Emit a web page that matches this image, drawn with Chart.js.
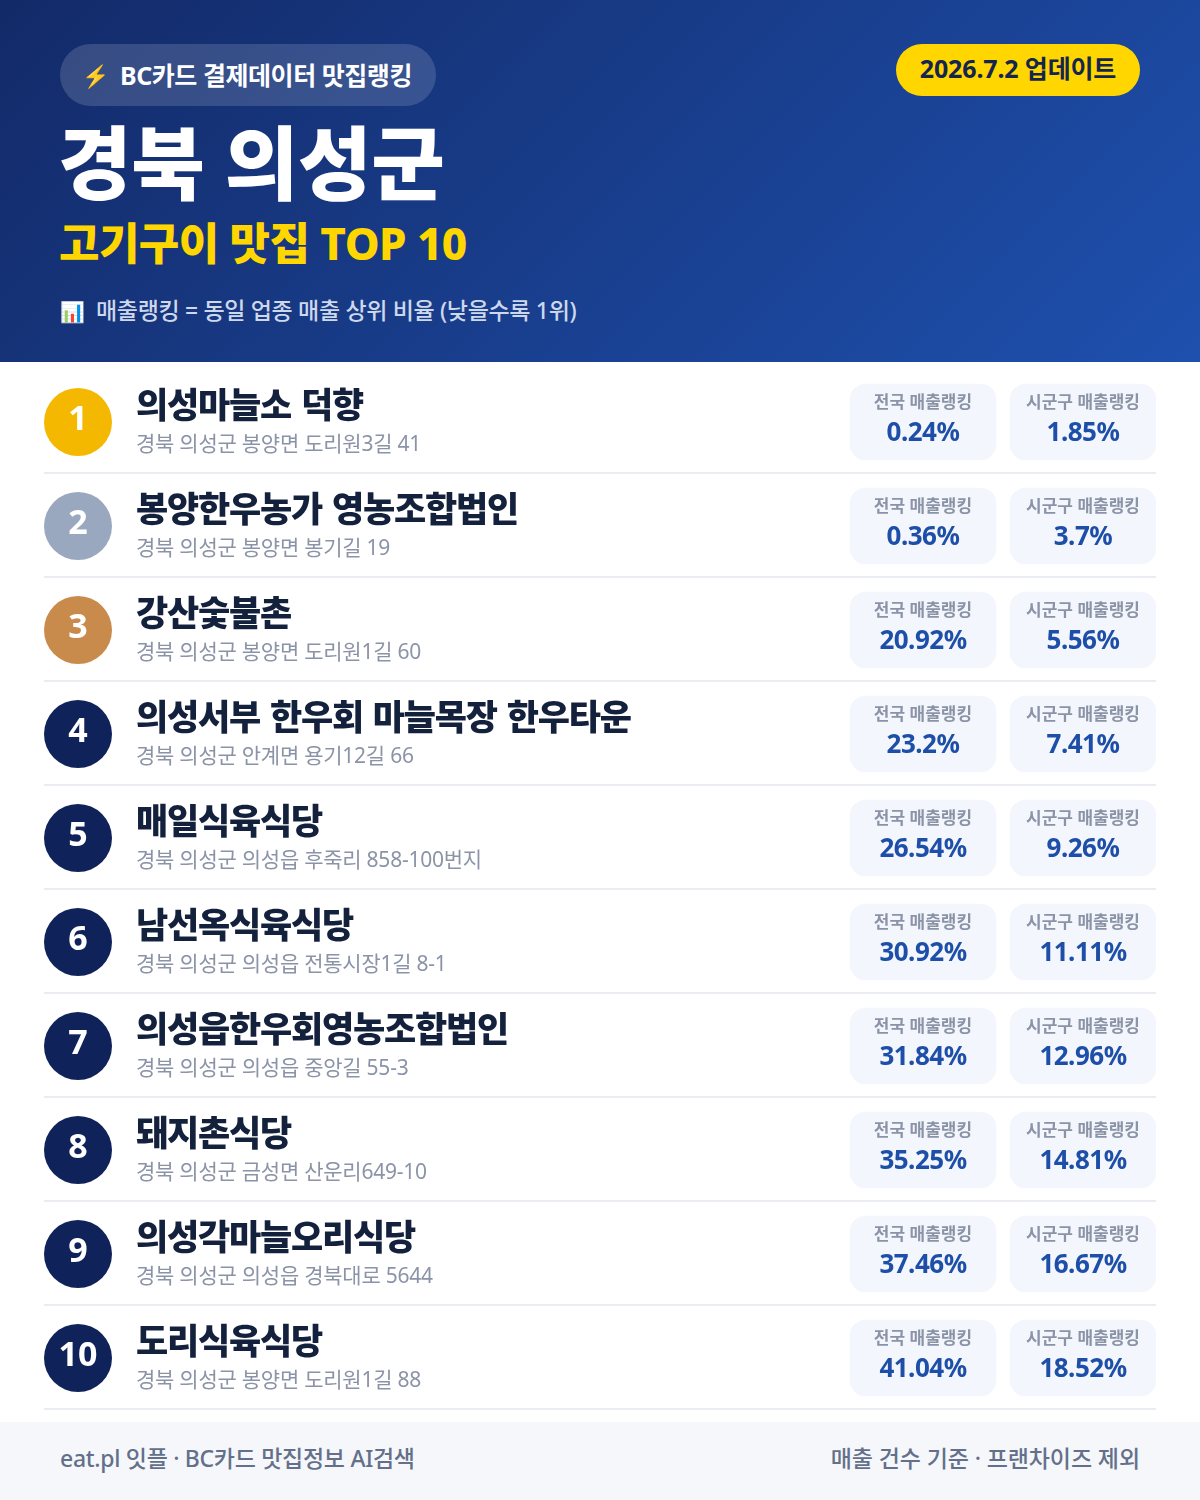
<!DOCTYPE html>
<html lang="ko">
<head>
<meta charset="utf-8">
<title>경북 의성군 고기구이 맛집 TOP 10</title>
<script src="https://cdn.jsdelivr.net/npm/chart.js@4"></script>
<style>
	* { margin: 0; padding: 0; box-sizing: border-box; }
	html, body { width: 1200px; height: 1500px; background: #fff; overflow: hidden; }
	body { position: relative; font-family: "Noto Sans", "Noto Sans CJK KR", sans-serif; }
	.header {
		position: absolute; left: 0; top: 0; width: 1200px; height: 362px;
		background: linear-gradient(135deg, #132a68 0%, #1e50ae 100%);
	}
	.header div, .footer div { position: absolute; white-space: nowrap; }
	.badge {
		left: 60px; top: 44px; width: 376px; height: 62px; border-radius: 31px;
		background: rgba(255, 255, 255, 0.15); color: #fff;
		font-size: 25px; font-weight: 700; line-height: 63px; padding-left: 24px; letter-spacing: -0.45px;
	}
	.badge span { display: inline-block; width: 36px; font-size: 22px; position: relative; left: -2px; top: -1px; }
	.date {
		left: 896px; top: 44px; width: 244px; height: 52px; border-radius: 26px;
		background: #ffd600; color: #14254f;
		font-size: 25px; font-weight: 700; line-height: 48px; text-align: center; letter-spacing: -0.15px;
	}
	.title { left: 58px; top: 104px; color: #fff; font-size: 80px; font-weight: 900; line-height: 116px; letter-spacing: -0.4px; }
	.subtitle { left: 59px; top: 211px; color: #ffd600; font-size: 44px; font-weight: 800; line-height: 64px; letter-spacing: -0.55px; }
	.note { left: 60px; top: 292px; color: #cdd8ec; font-size: 23px; font-weight: 500; line-height: 36px; letter-spacing: -0.33px; }
	.note span { display: inline-block; width: 36px; font-size: 20px; }
	#board { position: absolute; left: 0; top: 362px; }
	.footer { position: absolute; left: 0; top: 1422px; width: 1200px; height: 78px; background: #f5f7fb; color: #64708a; font-size: 23px; font-weight: 500; line-height: 72px; letter-spacing: -0.3px; }
	.footer .left { left: 60px; }
	.footer .right { right: 60px; letter-spacing: -0.1px; }
</style>
</head>
<body>
<div class="header">
	<div class="badge"><span>⚡</span>BC카드 결제데이터 맛집랭킹</div>
	<div class="date">2026.7.2 업데이트</div>
	<div class="title">경북 의성군</div>
	<div class="subtitle">고기구이 맛집 TOP 10</div>
	<div class="note"><span>📊</span>매출랭킹 = 동일 업종 매출 상위 비율 (낮을수록 1위)</div>
</div>
<canvas id="board" width="1200" height="1060"></canvas>
<div class="footer">
	<div class="left">eat.pl 잇플 · BC카드 맛집정보 AI검색</div>
	<div class="right">매출 건수 기준 · 프랜차이즈 제외</div>
</div>
<script>
// table contents
const ranks = [1, 2, 3, 4, 5, 6, 7, 8, 9, 10]
const names = [
	'의성마늘소 덕향',
	'봉양한우농가 영농조합법인',
	'강산숯불촌',
	'의성서부 한우회 마늘목장 한우타운',
	'매일식육식당',
	'남선옥식육식당',
	'의성읍한우회영농조합법인',
	'돼지촌식당',
	'의성각마늘오리식당',
	'도리식육식당',
]
const addresses = [
	'경북 의성군 봉양면 도리원3길 41',
	'경북 의성군 봉양면 봉기길 19',
	'경북 의성군 봉양면 도리원1길 60',
	'경북 의성군 안계면 용기12길 66',
	'경북 의성군 의성읍 후죽리 858-100번지',
	'경북 의성군 의성읍 전통시장1길 8-1',
	'경북 의성군 의성읍 중앙길 55-3',
	'경북 의성군 금성면 산운리649-10',
	'경북 의성군 의성읍 경북대로 5644',
	'경북 의성군 봉양면 도리원1길 88',
]
const nationalRank = [0.24, 0.36, 20.92, 23.2, 26.54, 30.92, 31.84, 35.25, 37.46, 41.04]
const sigunguRank = [1.85, 3.7, 5.56, 7.41, 9.26, 11.11, 12.96, 14.81, 16.67, 18.52]
const cardLabels = ['전국 매출랭킹', '시군구 매출랭킹']

// columns on the x axis
const BADGE_X = 78
const TEXT_X = 136
const NATIONAL_COL = [850, 996]
const SIGUNGU_COL = [1010, 1156]
const FONT = '"Noto Sans", "Noto Sans CJK KR", sans-serif'

const badgeColors = ranks.map((r) => ['#f5b800', '#9aa8bf', '#c98b4b'][r - 1] || '#10225a')

// draws every label of a row, positions come from the scales
const rowText = {
	id: 'rowText',
	afterDatasetsDraw(chart) {
		const { ctx, scales } = chart
		const px = (v) => scales.x.getPixelForValue(v)
		ctx.save()
		ctx.textBaseline = 'alphabetic'
		ranks.forEach((rank, i) => {
			const y = scales.y.getPixelForValue(rank)

			ctx.textAlign = 'center'
			ctx.fillStyle = '#fff'
			ctx.font = '700 34px ' + FONT
			ctx.fillText(rank, px(BADGE_X), y + 8)

			ctx.textAlign = 'left'
			ctx.fillStyle = '#14213d'
			ctx.font = '800 35px ' + FONT
			ctx.letterSpacing = '-1.2px'
			ctx.wordSpacing = '2px'
			ctx.fillText(names[i], px(TEXT_X), y - 4)
			ctx.wordSpacing = '0px'
			ctx.fillStyle = '#8b94a7'
			ctx.font = '400 21px ' + FONT
			ctx.letterSpacing = '-0.25px'
			ctx.fillText(addresses[i], px(TEXT_X), y + 29)
			ctx.letterSpacing = '0px'

			ctx.textAlign = 'center'
			;[NATIONAL_COL, SIGUNGU_COL].forEach((col, c) => {
				const mid = px((col[0] + col[1]) / 2)
				const value = c == 0 ? nationalRank[i] : sigunguRank[i]
				ctx.fillStyle = '#8b94a7'
				ctx.font = '700 17px ' + FONT
				ctx.fillText(cardLabels[c], mid, y - 14)
				ctx.fillStyle = '#1e4fa8'
				ctx.font = '700 26px ' + FONT
				ctx.letterSpacing = '-0.5px'
				ctx.fillText(value + '%', mid, y + 19)
				ctx.letterSpacing = '0px'
			})
		})
		ctx.restore()
	},
}

let ctx = document.getElementById('board').getContext('2d')
let board = new Chart(ctx, {
	type: 'bar',
	data: {
		datasets: [
			{
				type: 'scatter',
				label: '순위',
				data: ranks.map((r) => ({ x: BADGE_X, y: r })),
				pointRadius: 34,
				pointBackgroundColor: badgeColors,
				pointBorderWidth: 0,
				clip: false,
			},
			{
				label: cardLabels[0],
				data: ranks.map((r) => ({ x: NATIONAL_COL, y: r })),
				backgroundColor: '#f3f6fc',
				borderRadius: 16,
				borderSkipped: false,
				barThickness: 76,
				grouped: false,
			},
			{
				label: cardLabels[1],
				data: ranks.map((r) => ({ x: SIGUNGU_COL, y: r })),
				backgroundColor: '#f3f6fc',
				borderRadius: 16,
				borderSkipped: false,
				barThickness: 76,
				grouped: false,
			},
		],
	},
	options: {
		indexAxis: 'y',
		responsive: false,
		animation: false,
		// the big badges must not shrink the plot area
		layout: { autoPadding: false, padding: { left: 44, right: 44, top: 8, bottom: 12 } },
		plugins: { legend: { display: false }, tooltip: { enabled: false } },
		scales: {
			x: { type: 'linear', min: 44, max: 1156, display: false },
			y: {
				type: 'linear',
				reverse: true,
				offset: false,
				min: 0.5,
				max: 10.5,
				// separators sit just under each row
				afterBuildTicks(axis) {
					axis.ticks = ranks.map((r) => ({ value: r + 0.49 }))
				},
				ticks: { display: false },
				border: { display: false },
				grid: { color: '#e9ecf1', lineWidth: 2, drawTicks: false, offset: false },
			},
		},
	},
	plugins: [rowText],
})
</script>
</body>
</html>
